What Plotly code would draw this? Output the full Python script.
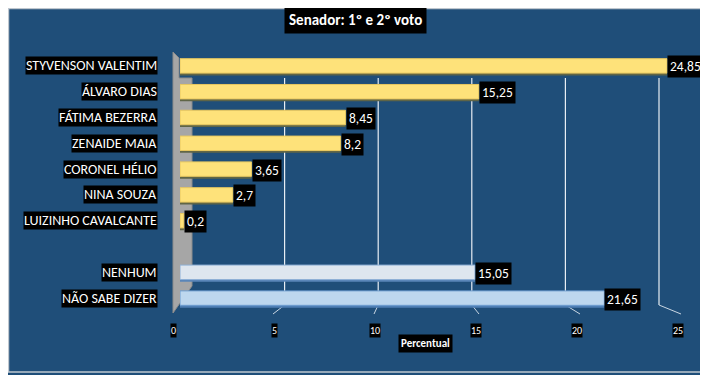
import plotly.graph_objects as go

categories = ["STYVENSON VALENTIM", "ÁLVARO DIAS", "FÁTIMA BEZERRA", "ZENAIDE MAIA",
              "CORONEL HÉLIO", "NINA SOUZA", "LUIZINHO CAVALCANTE", " ",
              "NENHUM ", "NÃO SABE DIZER"]
values = [24.85, 15.25, 8.45, 8.2, 3.65, 2.7, 0.2, None, 15.05, 21.65]
value_labels = ["24,85", "15,25", "8,45", "8,2", "3,65", "2,7", "0,2", "", "15,05", "21,65"]
fill_colors = ["#FEE27A"] * 7 + ["rgba(0,0,0,0)", "#DEE6EF", "#BDD7EE"]
line_colors = ["#E8C860"] * 7 + ["rgba(0,0,0,0)", "#8FB0D6", "#6E9DD0"]
shadow_colors = ["#5F6547"] * 7 + ["rgba(0,0,0,0)", "#5A86B8", "#4F7FB5"]
tick_values = [0, 5, 10, 15, 20, 25]
title_text = "Senador: 1º e 2º voto"
axis_title = "Percentual"

# page has an 8px body margin; work in screen pixels
OFF = 8
SW, SH = 708, 375
PX0, PX1, PY0, PY1 = 180, 670, 53, 311      # plot area in screen pixels
W, H = SW - OFF, SH - OFF
L, R, T, B = PX0 - OFF, SW - PX1, PY0 - OFF, SH - PY1
PW, PH = PX1 - PX0, PY1 - PY0
BG = "#1F4E79"
FONT = "Carlito, 'Liberation Sans Narrow', Lato, sans-serif"
BW = 0.56


def px2x(px):
    return (px - PX0) / PW


def py2y(py):
    return (PY1 - py) / PH


fig = go.Figure()
# shadow (3D depth edge) under each bar
fig.add_trace(go.Bar(
    y=categories, x=values, orientation="h",
    marker=dict(color=shadow_colors, line=dict(width=0)),
    width=BW, offset=-BW / 2 + 0.09, hoverinfo="skip",
))
fig.add_trace(go.Bar(
    y=categories, x=values, orientation="h",
    marker=dict(color=fill_colors, line=dict(color=line_colors, width=1)),
    width=BW, offset=-BW / 2, hoverinfo="skip",
))

shapes = []
# outer border
shapes.append(dict(type="rect", xref="paper", yref="paper",
                   x0=px2x(OFF + 0.5), x1=px2x(706), y0=py2y(372), y1=py2y(OFF + 0.5),
                   line=dict(color="#BFC7CF", width=1.5), layer="below"))
# gray side wall
wall = [(173, 52), (179, 58), (179, 78), (192, 78), (192, 286), (173, 313)]
path = "M " + " L ".join(f"{px2x(x)},{py2y(y)}" for x, y in wall) + " Z"
shapes.append(dict(type="path", xref="paper", yref="paper", path=path,
                   fillcolor="#A6A6A6", line=dict(color="#8C8C8C", width=1), layer="below"))
# back-wall gridlines and their projection ticks
for v in tick_values[1:]:
    xb = 191 + 18.72 * v
    xl = 173 + 20.2 * v
    shapes.append(dict(type="line", xref="paper", yref="paper",
                       x0=px2x(xb), x1=px2x(xb), y0=py2y(78), y1=py2y(305),
                       line=dict(color="#E8EEF4", width=1.2), layer="below"))
    shapes.append(dict(type="line", xref="paper", yref="paper",
                       x0=px2x(xb), x1=px2x(xl + (3 if v > 12 else -1)), y0=py2y(305), y1=py2y(314),
                       line=dict(color="#C9D6E3", width=1), layer="below"))

annotations = []
annotations.append(dict(text=f"<b>{title_text}</b>", xref="paper", yref="paper",
                        x=px2x(355), y=py2y(20), xanchor="center", yanchor="middle",
                        showarrow=False,
                        font=dict(family=FONT, size=15, color="white"),
                        bgcolor="black", borderpad=4))
for cat, v, lab in zip(categories, values, value_labels):
    if cat.strip():
        annotations.append(dict(text=cat.strip(), xref="paper", yref="y", x=px2x(158), y=cat,
                                xanchor="right", yanchor="middle", showarrow=False,
                                font=dict(family=FONT, size=14, color="white"),
                                bgcolor="black", borderpad=0))
    if v is not None:
        annotations.append(dict(text=lab, xref="x", yref="y", x=v, y=cat, xanchor="left",
                                yanchor="middle", xshift=0, yshift=-1, showarrow=False,
                                font=dict(family=FONT, size=13.5, color="white"),
                                bgcolor="black", borderpad=2))
for v in tick_values:
    annotations.append(dict(text=str(v), xref="paper", yref="paper",
                            x=px2x(173 + 20.2 * v), y=py2y(330),
                            xanchor="center", yanchor="middle", showarrow=False,
                            font=dict(family=FONT, size=10, color="white"),
                            bgcolor="black", borderpad=0))
annotations.append(dict(text=f"<b>{axis_title}</b>", xref="paper", yref="paper",
                        x=px2x(425), y=py2y(343), xanchor="center", yanchor="middle",
                        showarrow=False,
                        font=dict(family=FONT, size=11, color="white"),
                        bgcolor="black", borderpad=2))

fig.update_layout(
    width=W, height=H,
    margin=dict(l=L, r=R, t=T, b=B),
    paper_bgcolor=BG, plot_bgcolor=BG,
    showlegend=False, barmode="overlay",
    xaxis=dict(range=[0, 25], showgrid=False, zeroline=False, showticklabels=False,
               showline=False, fixedrange=True),
    yaxis=dict(categoryorder="array", categoryarray=categories, autorange="reversed",
               showgrid=False, zeroline=False, showticklabels=False, showline=False,
               fixedrange=True),
    shapes=shapes, annotations=annotations,
)

fig.write_html("out.html")
